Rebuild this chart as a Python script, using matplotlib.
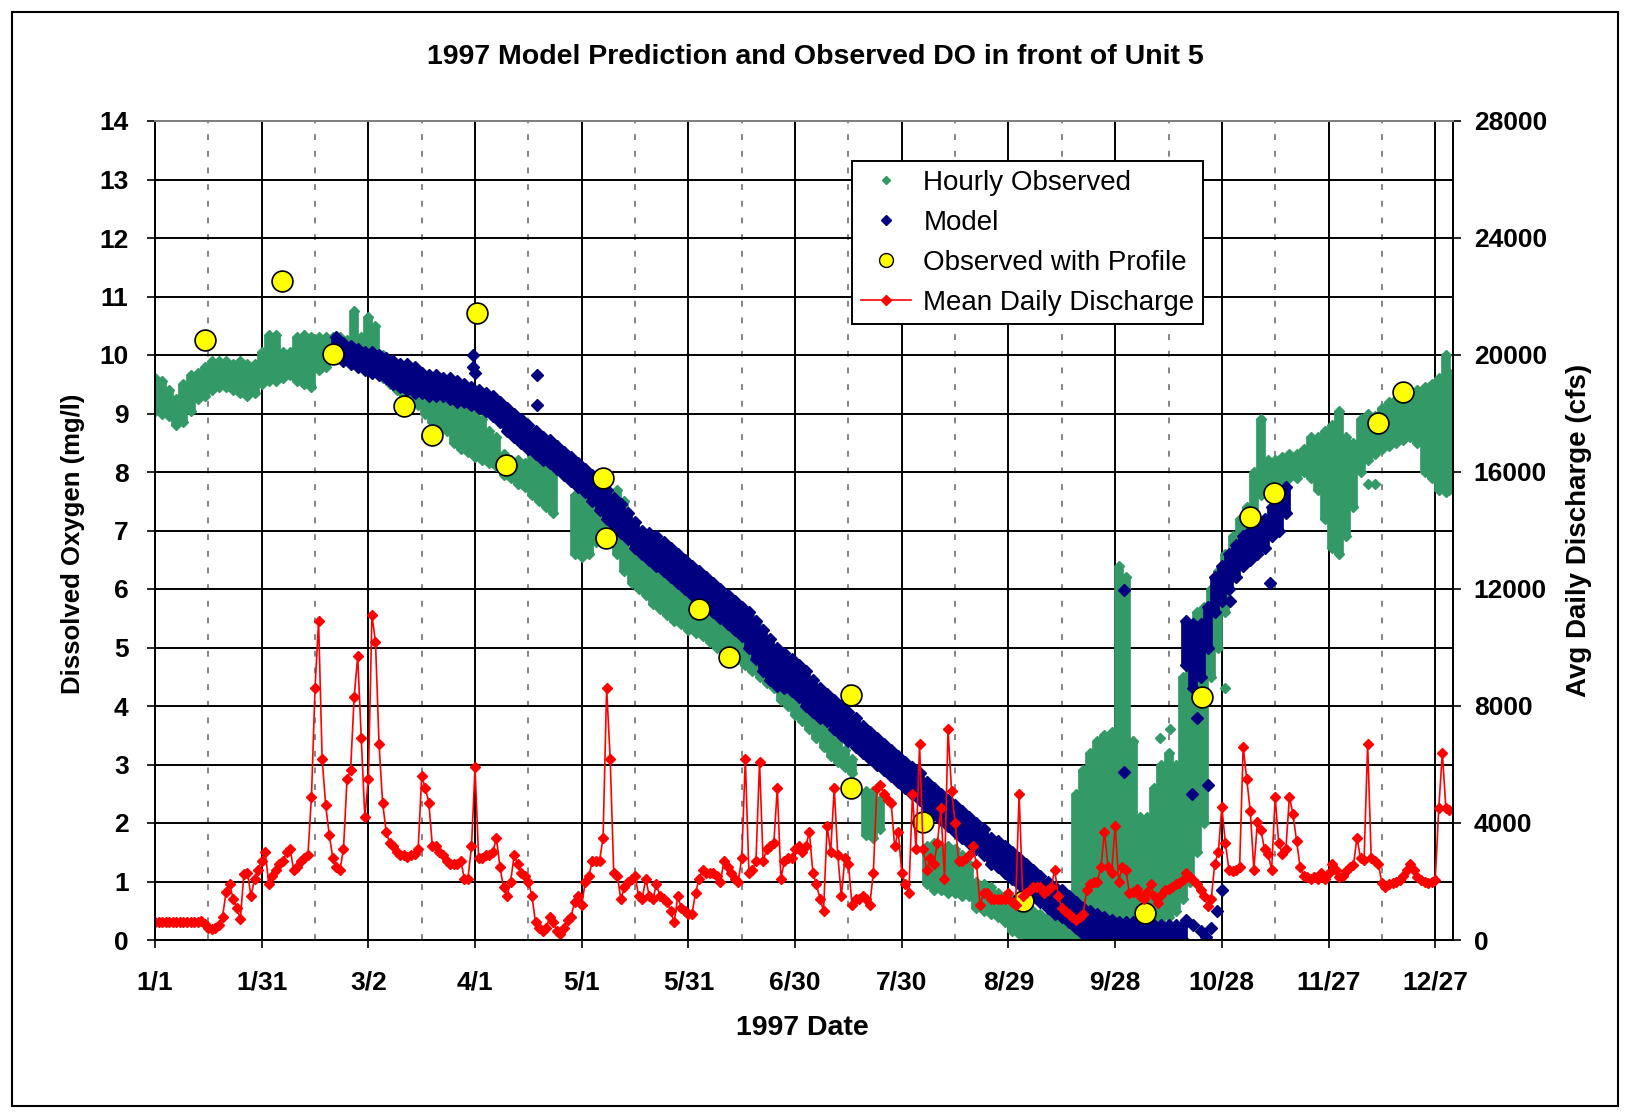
"""
1997 model prediction vs observed DO in front of Unit 5
"""

import numpy as np
import matplotlib
matplotlib.use("Agg")
import matplotlib.pyplot as plt
from matplotlib.lines import Line2D
from matplotlib.patches import Rectangle

plt.rcParams['font.family'] = ['Liberation Sans', 'DejaVu Sans']
plt.rcParams['font.weight'] = 'bold'

#%% axis labels / ticks
date_ticks = [0, 30, 60, 90, 120, 150, 180, 210, 240, 270, 300, 330, 360]
date_labels = ["1/1", "1/31", "3/2", "4/1", "5/1", "5/31", "6/30",
               "7/30", "8/29", "9/28", "10/28", "11/27", "12/27"]
do_ticks = list(range(0, 15))
cfs_ticks = [0, 4000, 8000, 12000, 16000, 20000, 24000, 28000]

#%% hourly observed DO, drawn as daily spread (low / high), days since 1/1
obs_day = (list(range(0, 113, 2)) + list(range(118, 197, 2)) + [200, 202, 204]
           + list(range(217, 364, 2)) + [364])
obs_lo = [9.05, 9.0, 8.95, 8.8, 8.85, 9.05, 9.25, 9.3, 9.4, 9.45,
          9.45, 9.4, 9.35, 9.3, 9.35, 9.5, 9.55, 9.55, 9.6, 9.65,
          9.55, 9.5, 9.45, 9.75, 9.8, 9.95, 10.05, 10.1, 10.1, 10.0,
          9.8, 9.75, 9.6, 9.5, 9.4, 9.3, 9.25, 9.15, 9.0, 8.85,
          8.8, 8.7, 8.5, 8.4, 8.35, 8.25, 8.2, 8.15, 8.1, 7.95,
          7.9, 7.8, 7.75, 7.6, 7.5, 7.4, 7.3,
          # 118 - 196
          6.6, 6.55, 6.6, 6.8, 6.85, 6.8, 6.6, 6.3, 6.1, 6.0,
          5.9, 5.75, 5.65, 5.55, 5.45, 5.4, 5.3, 5.25, 5.2, 5.1,
          5.0, 4.9, 4.85, 4.8, 4.7, 4.6, 4.5, 4.4, 4.3, 4.1,
          4.0, 3.85, 3.75, 3.6, 3.45, 3.3, 3.15, 3.05, 2.95, 2.85,
          # 200 - 204
          1.8, 1.75, 1.9,
          # 217 - 364
          0.95, 0.85, 0.85, 0.8, 0.8, 0.75, 0.75, 0.55, 0.5, 0.45,
          0.4, 0.3, 0.15, 0.1, 0.05, 0.0, 0.0, 0.0, 0.0, 0.0,
          0.0, 0.0, 0.0, 0.0, 0.0, 0.0, 0.0, 0.2, 0.3, 0.1,
          0.1, 0.2, 0.3, 0.3, 0.4, 0.5, 0.7, 1.0, 1.5, 2.0,
          4.5, 5.0, 5.6, 6.2, 6.6, 6.9, 7.2, 7.6, 7.6, 7.8,
          7.85, 7.9, 7.9, 8.0, 7.9, 7.7, 7.2, 6.7, 6.6, 6.9,
          7.4, 8.0, 8.2, 8.3, 8.4, 8.45, 8.5, 8.55, 8.6, 8.5,
          8.0, 7.9, 7.7, 7.65, 7.7]
obs_hi = [9.6, 9.55, 9.4, 9.25, 9.5, 9.65, 9.7, 9.8, 9.9, 9.9,
          9.9, 9.85, 9.9, 9.85, 9.85, 10.05, 10.35, 10.35, 10.05, 10.05,
          10.3, 10.35, 10.3, 10.3, 10.3, 10.3, 10.3, 10.25, 10.75, 10.3,
          10.65, 10.5, 10.0, 9.9, 9.8, 9.6, 9.5, 9.4, 9.35, 9.3,
          9.3, 9.3, 9.25, 9.2, 9.2, 9.2, 8.9, 8.7, 8.6, 8.3,
          8.2, 8.2, 8.15, 8.4, 8.4, 8.3, 8.1,
          # 118 - 196
          7.6, 7.55, 7.7, 7.65, 7.6, 7.55, 7.7, 7.5, 6.7, 6.7,
          6.6, 6.45, 6.35, 6.2, 6.1, 6.0, 5.9, 5.8, 5.75, 5.7,
          5.7, 5.65, 5.6, 5.6, 5.55, 5.5, 5.35, 4.9, 4.75, 4.6,
          4.5, 4.35, 4.3, 4.1, 3.9, 3.75, 3.55, 3.4, 3.25, 3.1,
          # 200 - 204
          2.55, 2.55, 2.4,
          # 217 - 364
          1.6, 1.65, 1.6, 1.6, 1.55, 1.45, 1.3, 1.0, 0.95, 0.9,
          0.8, 0.75, 0.7, 0.6, 0.55, 0.5, 0.45, 0.4, 0.4, 0.35,
          0.45, 2.5, 2.9, 3.2, 3.4, 3.5, 3.55, 6.4, 6.2, 3.4,
          2.1, 2.1, 2.6, 3.0, 3.2, 3.0, 4.5, 5.4, 5.6, 5.7,
          6.0, 6.3, 6.6, 6.9, 7.2, 7.4, 8.0, 8.9, 8.2, 8.2,
          8.25, 8.3, 8.3, 8.4, 8.6, 8.6, 8.7, 8.8, 9.05, 8.6,
          8.5, 8.9, 9.0, 8.95, 9.1, 9.2, 9.25, 9.3, 9.35, 9.4,
          9.45, 9.5, 9.6, 10.0, 9.7]
obs_pt_day = [282.5, 285.5, 301.0, 341.0, 343.0]
obs_pt_do = [3.45, 3.6, 4.3, 7.8, 7.8]

#%% model DO (daily spread)
model_day = list(range(51, 290, 2)) + list(range(290, 319, 2))
model_lo = [9.95, 9.9, 9.85, 9.8, 9.75, 9.7, 9.65, 9.6, 9.5, 9.45,
            9.4, 9.35, 9.35, 9.3, 9.3, 9.3, 9.25, 9.2, 9.2, 9.15,
            9.1, 9.05, 8.95, 8.85, 8.7, 8.6, 8.5, 8.4, 8.3, 8.2,
            8.15, 8.05, 7.95, 7.85, 7.75, 7.65, 7.5, 7.35, 7.2, 7.1,
            6.95, 6.85, 6.7, 6.6, 6.5, 6.4, 6.3, 6.2, 6.1, 6.0,
            5.9, 5.8, 5.7, 5.6, 5.5, 5.4, 5.3, 5.2, 5.0, 4.8,
            4.6, 4.45, 4.35, 4.3, 4.25, 4.15, 4.0, 3.9, 3.8, 3.75,
            3.6, 3.5, 3.4, 3.3, 3.2, 3.1, 3.0, 2.9, 2.8, 2.7,
            2.6, 2.5, 2.4, 2.25, 2.15, 2.05, 1.95, 1.85, 1.75, 1.65,
            1.55, 1.45, 1.3, 1.25, 1.15, 1.05, 0.95, 0.85, 0.75, 0.65,
            0.55, 0.45, 0.4, 0.3, 0.2, 0.1, 0.05, 0.0, 0.0, 0.0,
            0.0, 0.0, 0.0, 0.0, 0.0, 0.0, 0.0, 0.0, 0.0, 0.0,
            # 290 - 318
            4.7, 4.3, 4.5, 5.0, 5.6, 5.8, 6.0, 6.2, 6.4, 6.5,
            6.6, 6.7, 6.9, 7.0, 7.3]
model_hi = [10.3, 10.2, 10.15, 10.1, 10.05, 10.05, 10.0, 9.95, 9.9, 9.85,
            9.85, 9.8, 9.7, 9.65, 9.65, 9.6, 9.6, 9.55, 9.5, 9.45,
            9.4, 9.35, 9.3, 9.2, 9.1, 9.0, 8.9, 8.8, 8.7, 8.6,
            8.55, 8.45, 8.35, 8.25, 8.15, 8.05, 7.95, 7.85, 7.7, 7.55,
            7.45, 7.3, 7.15, 7.0, 6.95, 6.9, 6.8, 6.7, 6.6, 6.5,
            6.4, 6.3, 6.2, 6.1, 6.0, 5.9, 5.8, 5.7, 5.6, 5.45,
            5.3, 5.15, 5.0, 4.9, 4.8, 4.7, 4.6, 4.45, 4.3, 4.2,
            4.1, 4.0, 3.9, 3.8, 3.65, 3.55, 3.45, 3.35, 3.25, 3.15,
            3.05, 2.95, 2.85, 2.7, 2.6, 2.5, 2.4, 2.3, 2.2, 2.1,
            2.0, 1.9, 1.75, 1.7, 1.6, 1.5, 1.4, 1.3, 1.2, 1.1,
            1.0, 0.9, 0.85, 0.75, 0.65, 0.55, 0.5, 0.45, 0.4, 0.35,
            0.3, 0.3, 0.3, 0.25, 0.25, 0.25, 0.25, 0.25, 0.25, 0.25,
            # 290 - 318
            5.45, 5.4, 5.4, 5.7, 6.2, 6.4, 6.6, 6.75, 6.9, 7.0,
            7.1, 7.2, 7.4, 7.6, 7.75]
model_pt_day = [89.5, 89.5, 90.0, 107.5, 107.5, 272.5, 272.5, 290.0, 291.5, 292.0,
                293.0, 294.0, 295.5, 296.2, 297.0, 298.5, 300.0, 302.3, 313.5]
model_pt_do = [10.0, 9.8, 9.7, 9.65, 9.15, 5.98, 2.88, 0.35, 2.5, 0.25,
               3.8, 0.15, 0.05, 2.65, 0.2, 0.5, 0.85, 5.8, 6.1]

#%% observed with profile
prof_day = [14.0, 35.6, 50.0, 70.0, 77.8, 90.5, 98.7, 126.0, 126.7, 153.0, 161.4,
            195.6, 195.6, 216.0, 244.1, 278.5, 294.3, 307.9, 314.8, 343.8, 350.9]
prof_do = [10.26, 11.27, 10.01, 9.12, 8.63, 10.72, 8.12, 7.89, 6.88, 5.66, 4.83,
           4.18, 2.60, 2.02, 0.67, 0.46, 4.15, 7.23, 7.64, 8.83, 9.37]

#%% mean daily discharge (cfs), one value per day from 1/1
flow_cfs = [620, 620, 620, 620, 620, 620, 620, 620, 620, 620,
            620, 620, 620, 640, 560, 420, 380, 400, 500, 800,
            1650, 1900, 1400, 1100, 720, 2250, 2300, 1500, 2100, 2400,
            2700, 3000, 1900, 2200, 2400, 2600, 2700, 3000, 3100, 2400,
            2500, 2700, 2800, 2900, 4900, 8600, 10900, 6200, 4600, 3600,
            2800, 2500, 2400, 3100, 5500, 5800, 8300, 9700, 6900, 4200,
            5500, 11100, 10200, 6700, 4700, 3700, 3300, 3200, 3000, 2900,
            2900, 2850, 2900, 2950, 3100, 5600, 5200, 4700, 3200, 3200,
            3000, 2900, 2700, 2600, 2600, 2600, 2700, 2100, 2100, 3200,
            5900, 2800, 2800, 2900, 2900, 3000, 3500, 2500, 1800, 1500,
            2000, 2900, 2600, 2300, 2200, 2000, 1500, 600, 400, 300,
            400, 800, 600, 300, 200, 400, 700, 800, 1300, 1500,
            1200, 2000, 2200, 2700, 2700, 2700, 3500, 8600, 6200, 2300,
            2200, 1400, 1800, 2000, 2100, 2200, 1500, 1400, 2100, 1500,
            1400, 1900, 1500, 1400, 1300, 1000, 600, 1500, 1100, 1000,
            900, 900, 1600, 2100, 2400, 2300, 2300, 2300, 2200, 2000,
            2700, 2500, 2300, 2100, 2000, 2800, 6200, 2300, 2400, 2700,
            6100, 2700, 3100, 3200, 3300, 5200, 2100, 2700, 2800, 2800,
            3100, 3200, 3000, 3200, 3700, 2300, 1900, 1400, 1000, 3900,
            3000, 5200, 2900, 1500, 2800, 2600, 1200, 1400, 1400, 1500,
            1400, 1200, 2300, 5200, 5300, 5000, 4800, 4700, 3200, 3700,
            2300, 1900, 1600, 5000, 3100, 6700, 3100, 2400, 2800, 2600,
            3300, 4500, 2100, 7200, 5100, 4000, 2700, 2700, 2800, 2900,
            3200, 2600, 1200, 1600, 1600, 1400, 1400, 1400, 1400, 1400,
            1600, 1300, 1200, 5000, 1500, 1600, 1700, 1800, 1800, 1800,
            1600, 1700, 1800, 2400, 1500, 1100, 1000, 900, 800, 700,
            800, 900, 1700, 1900, 2000, 2000, 2500, 3700, 2500, 2300,
            3900, 2000, 2500, 2400, 1600, 1650, 1750, 1500, 1400, 1650,
            1900, 1500, 1250, 1550, 1700, 1750, 1800, 1900, 1950, 2050,
            2300, 2150, 2050, 1900, 1700, 1500, 1150, 1400, 2600, 3000,
            4550, 3300, 2400, 2350, 2400, 2500, 6600, 5500, 4400, 2400,
            4050, 3750, 3100, 2950, 2400, 4900, 3300, 2950, 3100, 4900,
            4300, 3400, 2500, 2200, 2150, 2100, 2150, 2100, 2300, 2100,
            2300, 2600, 2400, 2150, 2200, 2350, 2500, 2550, 3500, 2800,
            2750, 6700, 2800, 2700, 2600, 1950, 1800, 1900, 1950, 2000,
            2050, 2200, 2400, 2600, 2400, 2150, 2050, 2000, 1950, 2000,
            2050, 4500, 6400, 4500, 4450]

GREEN = "#339966"
NAVY = "#000080"


#%%
def draw_band(ax, days, lo, hi, color, ms, lw, z):
    ax.vlines(days, lo, hi, colors=color, lw=lw, zorder=z)
    ax.plot(days, lo, "D", color=color, mec=color, ms=ms, zorder=z)
    ax.plot(days, hi, "D", color=color, mec=color, ms=ms, zorder=z)


W, H = 1629, 1112
fig = plt.figure(figsize=(W / 100, H / 100), dpi=100)
ax = fig.add_axes([155 / W, 1 - 940 / H, (1453 - 155) / W, (940 - 121) / H])

draw_band(ax, obs_day, obs_lo, obs_hi, GREEN, 5.5, 7, 2)
ax.plot(obs_pt_day, obs_pt_do, "D", color=GREEN, ms=5.5, zorder=2)
draw_band(ax, model_day, model_lo, model_hi, NAVY, 6.5, 7, 3)
ax.plot(model_pt_day, model_pt_do, "D", color=NAVY, ms=6.5, zorder=3)
ax.plot(prof_day, prof_do, "o", ms=15, mfc="yellow", mec="black", mew=1.2, zorder=4)

ax.set_xlim(0, 365)
ax.set_ylim(0, 14)
ax.set_xticks(date_ticks)
ax.set_xticklabels(date_labels)
ax.set_xticks([t + 15 for t in date_ticks[:-1]], minor=True)
ax.set_yticks(do_ticks)
ax.set_axisbelow(True)
ax.grid(which="major", color="black", lw=1.4)
ax.grid(which="minor", axis="x", color="#6f6f6f", lw=1.2, ls=(0, (3.5, 6.5)))
ax.tick_params(which="major", direction="out", length=6, width=1.2,
               labelsize=19, pad=13, color="black")
ax.tick_params(axis="x", which="major", pad=16)
ax.tick_params(which="minor", length=0)
for s in ax.spines.values():
    s.set_linewidth(1.4)
ax.spines["top"].set_color("#808080")

ax2 = ax.twinx()
ax2.plot(range(len(flow_cfs)), flow_cfs, "-", color="red", lw=1.2,
         marker="D", ms=5, mec="red")
ax2.set_ylim(0, 28000)
ax2.set_yticks(cfs_ticks)
ax2.set_yticklabels([str(v) for v in cfs_ticks])
ax2.tick_params(direction="out", length=6, width=1.2, labelsize=19, pad=9)
for s in ax2.spines.values():
    s.set_linewidth(1.4)
ax2.spines["top"].set_color("#808080")

handles = [Line2D([], [], ls="none", marker="D", color=GREEN, ms=4),
           Line2D([], [], ls="none", marker="D", color=NAVY, ms=5),
           Line2D([], [], ls="none", marker="o", mfc="yellow", mec="black", ms=10),
           Line2D([], [], color="red", lw=1.2, marker="D", ms=5.5)]
labels = ["Hourly Observed", "Model", "Observed with Profile", "Mean Daily Discharge"]
leg = ax2.legend(handles, labels, loc="upper left",
                 bbox_to_anchor=(852 / W, 1 - 161 / H), bbox_transform=fig.transFigure,
                 prop={"weight": "normal", "size": 20}, frameon=True, fancybox=False,
                 edgecolor="black", framealpha=1, borderpad=0.32, labelspacing=0.5,
                 handlelength=1.8, handletextpad=0.45, borderaxespad=0)
leg.get_frame().set_linewidth(1.4)

fig.text(815 / W, 1 - 57 / H, "1997 Model Prediction and Observed DO in front of Unit 5",
         ha="center", va="center", fontsize=20.5)
fig.text(73 / W, 1 - 544 / H, "Dissolved Oxygen (mg/l)", rotation=90,
         ha="center", va="center", fontsize=18.5)
fig.text(1579 / W, 1 - 530 / H, "Avg Daily Discharge (cfs)", rotation=90,
         ha="center", va="center", fontsize=20)
fig.text(802 / W, 1 - 1028 / H, "1997 Date", ha="center", va="center", fontsize=20.5)

fig.patches.append(Rectangle((12 / W, 1 - 1106 / H), (1618 - 12) / W, (1106 - 12) / H,
                             transform=fig.transFigure, fill=False,
                             edgecolor="black", lw=1.5))

fig.savefig("out.png", dpi=100)
